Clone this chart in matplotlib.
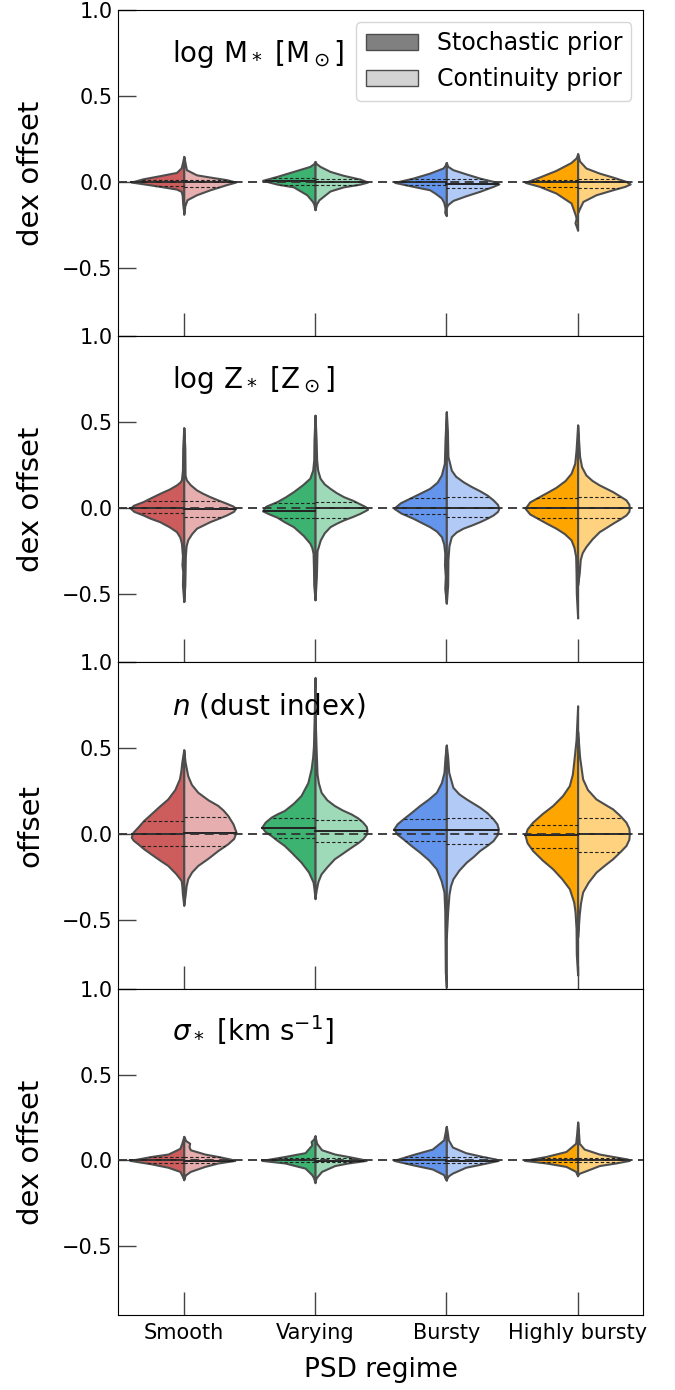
import numpy as np
import matplotlib
matplotlib.use("Agg")
import matplotlib.pyplot as plt
from matplotlib.colors import to_rgb
from matplotlib.patches import Patch

regimes = ["Smooth", "Varying", "Bursty", "Highly bursty"]
titles = [r"log M$_*$ [M$_\odot$]", r"log Z$_*$ [Z$_\odot$]",
          r"$n$ (dust index)", r"$\sigma_*$ [km s$^{-1}$]"]
ylabels = ["dex offset", "dex offset", "offset", "dex offset"]
colors = ["indianred", "mediumseagreen", "cornflowerblue", "orange"]

# violin half profiles: (offset, half width) from bottom to top, one list per regime
mass_stoch = [
    [(-0.18, 0.0), (-0.13, 0.008), (-0.08, 0.012), (-0.056, 0.02), (-0.043, 0.056), (-0.027, 0.183),
     (-0.012, 0.31), (-0.002, 0.40), (0.017, 0.31), (0.035, 0.183), (0.054, 0.056), (0.08, 0.02),
     (0.11, 0.01), (0.147, 0.0)],
    [(-0.163, 0.0), (-0.13, 0.01), (-0.115, 0.02), (-0.076, 0.063), (-0.03, 0.165), (-0.014, 0.29),
     (0.008, 0.40), (0.031, 0.29), (0.06, 0.165), (0.089, 0.04), (0.105, 0.01), (0.118, 0.0)],
    [(-0.198, 0.0), (-0.18, 0.012), (-0.153, 0.01), (-0.12, 0.02), (-0.095, 0.038), (-0.07, 0.08),
     (-0.047, 0.127), (-0.027, 0.254), (-0.004, 0.394), (0.021, 0.254), (0.05, 0.127), (0.08, 0.025),
     (0.095, 0.01), (0.112, 0.0)],
    [(-0.283, 0.0), (-0.26, 0.01), (-0.24, 0.02), (-0.215, 0.012), (-0.2, 0.015), (-0.124, 0.05),
     (-0.066, 0.165), (-0.027, 0.292), (-0.004, 0.40), (0.027, 0.292), (0.066, 0.165), (0.112, 0.05),
     (0.14, 0.01), (0.163, 0.0)],
]
mass_cont = [
    [(-0.19, 0.0), (-0.14, 0.008), (-0.105, 0.025), (-0.076, 0.097), (-0.047, 0.2), (-0.017, 0.325),
     (-0.002, 0.396), (0.012, 0.325), (0.027, 0.2), (0.04, 0.097), (0.07, 0.02), (0.11, 0.01), (0.147, 0.0)],
    [(-0.163, 0.0), (-0.13, 0.01), (-0.105, 0.03), (-0.054, 0.114), (-0.03, 0.216), (-0.014, 0.343),
     (-0.002, 0.40), (0.015, 0.343), (0.037, 0.216), (0.06, 0.114), (0.089, 0.038), (0.105, 0.01), (0.118, 0.0)],
    [(-0.15, 0.0), (-0.134, 0.01), (-0.109, 0.05), (-0.081, 0.152), (-0.056, 0.254), (-0.027, 0.356),
     (-0.013, 0.40), (0.002, 0.356), (0.021, 0.254), (0.045, 0.152), (0.07, 0.05), (0.09, 0.01), (0.112, 0.0)],
    [(-0.18, 0.0), (-0.163, 0.01), (-0.115, 0.04), (-0.076, 0.14), (-0.047, 0.267), (-0.027, 0.36),
     (-0.013, 0.40), (0.002, 0.368), (0.027, 0.267), (0.05, 0.165), (0.08, 0.063), (0.12, 0.015), (0.163, 0.0)],
]
metal_stoch = [
    [(-0.545, 0.0), (-0.45, 0.01), (-0.37, 0.008), (-0.33, 0.014), (-0.28, 0.01), (-0.205, 0.018),
     (-0.17, 0.03), (-0.138, 0.056), (-0.11, 0.11), (-0.08, 0.183), (-0.06, 0.255), (-0.041, 0.31),
     (-0.02, 0.38), (-0.002, 0.406), (0.015, 0.385), (0.037, 0.31), (0.06, 0.25), (0.085, 0.183),
     (0.11, 0.11), (0.134, 0.056), (0.15, 0.03), (0.163, 0.018), (0.22, 0.01), (0.35, 0.008), (0.467, 0.0)],
    [(-0.535, 0.0), (-0.45, 0.01), (-0.35, 0.012), (-0.264, 0.015), (-0.23, 0.025), (-0.205, 0.04),
     (-0.16, 0.09), (-0.109, 0.165), (-0.08, 0.235), (-0.054, 0.29), (-0.035, 0.35), (-0.017, 0.40),
     (0.01, 0.375), (0.037, 0.29), (0.065, 0.225), (0.095, 0.165), (0.135, 0.095), (0.173, 0.04),
     (0.22, 0.018), (0.28, 0.01), (0.4, 0.008), (0.54, 0.0)],
    [(-0.554, 0.0), (-0.47, 0.012), (-0.4, 0.008), (-0.33, 0.014), (-0.264, 0.012), (-0.21, 0.02),
     (-0.167, 0.038), (-0.135, 0.075), (-0.109, 0.127), (-0.085, 0.19), (-0.06, 0.254), (-0.03, 0.345),
     (-0.002, 0.40), (0.03, 0.35), (0.066, 0.254), (0.09, 0.19), (0.114, 0.127), (0.15, 0.07),
     (0.192, 0.038), (0.26, 0.015), (0.4, 0.01), (0.56, 0.0)],
    [(-0.641, 0.0), (-0.5, 0.01), (-0.38, 0.012), (-0.283, 0.015), (-0.23, 0.028), (-0.186, 0.05),
     (-0.15, 0.1), (-0.118, 0.165), (-0.09, 0.235), (-0.066, 0.292), (-0.035, 0.365), (-0.002, 0.40),
     (0.035, 0.365), (0.066, 0.292), (0.092, 0.23), (0.12, 0.165), (0.16, 0.095), (0.202, 0.05),
     (0.26, 0.022), (0.337, 0.012), (0.483, 0.0)],
]
metal_cont = [
    [(-0.545, 0.0), (-0.45, 0.008), (-0.37, 0.01), (-0.28, 0.012), (-0.22, 0.018), (-0.186, 0.03),
     (-0.15, 0.06), (-0.118, 0.097), (-0.1, 0.145), (-0.08, 0.198), (-0.06, 0.265), (-0.041, 0.325),
     (-0.02, 0.378), (-0.002, 0.396), (0.012, 0.372), (0.027, 0.325), (0.045, 0.265), (0.066, 0.198),
     (0.085, 0.145), (0.105, 0.097), (0.135, 0.05), (0.163, 0.02), (0.19, 0.01), (0.35, 0.008), (0.467, 0.0)],
    [(-0.535, 0.0), (-0.4, 0.01), (-0.25, 0.015), (-0.186, 0.04), (-0.145, 0.07), (-0.109, 0.114),
     (-0.09, 0.16), (-0.07, 0.216), (-0.05, 0.285), (-0.031, 0.343), (-0.008, 0.40), (0.008, 0.382),
     (0.023, 0.343), (0.045, 0.285), (0.066, 0.216), (0.09, 0.16), (0.114, 0.114), (0.14, 0.07),
     (0.173, 0.038), (0.22, 0.02), (0.28, 0.012), (0.4, 0.008), (0.54, 0.0)],
    [(-0.554, 0.0), (-0.45, 0.01), (-0.3, 0.012), (-0.22, 0.02), (-0.167, 0.038), (-0.14, 0.075),
     (-0.118, 0.127), (-0.1, 0.19), (-0.08, 0.254), (-0.06, 0.31), (-0.041, 0.356), (-0.02, 0.39),
     (-0.002, 0.40), (0.02, 0.39), (0.047, 0.356), (0.075, 0.31), (0.10, 0.254), (0.125, 0.19),
     (0.153, 0.127), (0.185, 0.07), (0.22, 0.038), (0.3, 0.012), (0.45, 0.008), (0.56, 0.0)],
    [(-0.45, 0.0), (-0.38, 0.012), (-0.3, 0.02), (-0.26, 0.035), (-0.225, 0.063), (-0.18, 0.11),
     (-0.138, 0.165), (-0.112, 0.22), (-0.089, 0.267), (-0.065, 0.32), (-0.041, 0.368), (-0.02, 0.39),
     (0.0, 0.394), (0.022, 0.39), (0.047, 0.368), (0.07, 0.32), (0.095, 0.267), (0.115, 0.215),
     (0.134, 0.165), (0.16, 0.11), (0.192, 0.063), (0.24, 0.03), (0.3, 0.015), (0.483, 0.0)],
]
dust_stoch = [
    [(-0.415, 0.0), (-0.35, 0.01), (-0.3, 0.015), (-0.27, 0.02), (-0.23, 0.06), (-0.182, 0.122),
     (-0.15, 0.185), (-0.115, 0.25), (-0.085, 0.305), (-0.056, 0.35), (-0.035, 0.385), (-0.017, 0.40),
     (0.01, 0.388), (0.041, 0.35), (0.08, 0.305), (0.118, 0.25), (0.16, 0.19), (0.205, 0.122),
     (0.26, 0.068), (0.322, 0.033), (0.37, 0.022), (0.419, 0.015), (0.492, 0.0)],
    [(-0.376, 0.0), (-0.32, 0.008), (-0.279, 0.015), (-0.22, 0.05), (-0.163, 0.107), (-0.11, 0.175),
     (-0.066, 0.234), (-0.035, 0.29), (-0.008, 0.335), (0.015, 0.38), (0.041, 0.406), (0.07, 0.38),
     (0.099, 0.335), (0.118, 0.29), (0.138, 0.234), (0.18, 0.165), (0.225, 0.107), (0.3, 0.055),
     (0.38, 0.03), (0.45, 0.018), (0.516, 0.012), (0.7, 0.006), (0.913, 0.0)],
    [(-0.89, 0.0), (-0.8, 0.008), (-0.6, 0.01), (-0.45, 0.012), (-0.337, 0.018), (-0.27, 0.04),
     (-0.202, 0.076), (-0.15, 0.135), (-0.105, 0.203), (-0.065, 0.27), (-0.027, 0.33), (0.0, 0.375),
     (0.031, 0.40), (0.06, 0.375), (0.089, 0.33), (0.125, 0.27), (0.167, 0.203), (0.205, 0.135),
     (0.244, 0.076), (0.3, 0.038), (0.36, 0.018), (0.45, 0.01), (0.519, 0.0)],
    [(-0.82, 0.0), (-0.7, 0.01), (-0.55, 0.012), (-0.45, 0.02), (-0.395, 0.03), (-0.318, 0.063),
     (-0.26, 0.12), (-0.202, 0.19), (-0.15, 0.27), (-0.095, 0.343), (-0.05, 0.385), (-0.008, 0.40),
     (0.03, 0.385), (0.07, 0.343), (0.12, 0.27), (0.167, 0.19), (0.225, 0.115), (0.283, 0.063),
     (0.35, 0.04), (0.419, 0.03), (0.55, 0.012), (0.748, 0.0)],
]
dust_cont = [
    [(-0.41, 0.0), (-0.357, 0.01), (-0.3, 0.018), (-0.26, 0.03), (-0.22, 0.06), (-0.182, 0.107),
     (-0.14, 0.185), (-0.095, 0.26), (-0.056, 0.335), (-0.025, 0.38), (0.012, 0.398), (0.06, 0.375),
     (0.109, 0.335), (0.14, 0.3), (0.167, 0.26), (0.2, 0.185), (0.244, 0.107), (0.29, 0.058),
     (0.341, 0.03), (0.42, 0.01), (0.49, 0.0)],
    [(-0.37, 0.0), (-0.32, 0.01), (-0.275, 0.022), (-0.231, 0.046), (-0.19, 0.09), (-0.143, 0.147),
     (-0.11, 0.21), (-0.076, 0.274), (-0.05, 0.325), (-0.027, 0.363), (0.0, 0.39), (0.021, 0.396),
     (0.045, 0.39), (0.07, 0.363), (0.095, 0.325), (0.118, 0.274), (0.14, 0.21), (0.167, 0.147),
     (0.2, 0.09), (0.244, 0.046), (0.3, 0.025), (0.35, 0.015), (0.5, 0.008), (0.7, 0.0)],
    [(-0.6, 0.0), (-0.45, 0.01), (-0.35, 0.02), (-0.3, 0.032), (-0.26, 0.05), (-0.21, 0.095),
     (-0.163, 0.152), (-0.13, 0.205), (-0.095, 0.254), (-0.065, 0.31), (-0.037, 0.356), (0.0, 0.39),
     (0.031, 0.396), (0.06, 0.385), (0.089, 0.356), (0.125, 0.31), (0.157, 0.254), (0.18, 0.205),
     (0.205, 0.152), (0.235, 0.095), (0.273, 0.05), (0.36, 0.018), (0.45, 0.01), (0.519, 0.0)],
    [(-0.6, 0.0), (-0.47, 0.012), (-0.4, 0.022), (-0.337, 0.038), (-0.28, 0.08), (-0.221, 0.14),
     (-0.18, 0.205), (-0.143, 0.267), (-0.1, 0.325), (-0.066, 0.368), (-0.03, 0.39), (0.002, 0.394),
     (0.035, 0.39), (0.07, 0.368), (0.11, 0.32), (0.147, 0.267), (0.175, 0.205), (0.205, 0.14),
     (0.26, 0.075), (0.322, 0.038), (0.45, 0.015), (0.6, 0.0)],
]
sigma_stoch = [
    [(-0.113, 0.0), (-0.09, 0.012), (-0.064, 0.03), (-0.04, 0.12), (-0.02, 0.247), (0.0, 0.41),
     (0.023, 0.247), (0.037, 0.12), (0.07, 0.03), (0.1, 0.015), (0.14, 0.0)],
    [(-0.13, 0.0), (-0.1, 0.012), (-0.083, 0.025), (-0.045, 0.076), (-0.015, 0.23), (0.0, 0.406),
     (0.023, 0.23), (0.045, 0.076), (0.09, 0.025), (0.11, 0.03), (0.125, 0.01), (0.145, 0.0)],
    [(-0.116, 0.0), (-0.1, 0.012), (-0.083, 0.02), (-0.05, 0.107), (-0.025, 0.26), (0.0, 0.40),
     (0.033, 0.26), (0.066, 0.107), (0.12, 0.02), (0.16, 0.01), (0.198, 0.0)],
    [(-0.09, 0.0), (-0.075, 0.01), (-0.064, 0.015), (-0.035, 0.089), (-0.015, 0.24), (0.0, 0.406),
     (0.023, 0.24), (0.052, 0.089), (0.1, 0.015), (0.15, 0.008), (0.223, 0.0)],
]
sigma_cont = [
    [(-0.11, 0.0), (-0.085, 0.012), (-0.064, 0.05), (-0.035, 0.16), (-0.015, 0.26), (0.0, 0.39),
     (0.007, 0.36), (0.023, 0.26), (0.037, 0.16), (0.062, 0.05), (0.08, 0.04), (0.1, 0.045),
     (0.115, 0.015), (0.14, 0.0)],
    [(-0.12, 0.0), (-0.1, 0.01), (-0.064, 0.05), (-0.03, 0.15), (-0.015, 0.25), (0.0, 0.39),
     (0.008, 0.35), (0.023, 0.25), (0.037, 0.15), (0.062, 0.05), (0.1, 0.012), (0.14, 0.0)],
    [(-0.11, 0.0), (-0.09, 0.015), (-0.074, 0.046), (-0.04, 0.147), (-0.02, 0.274), (0.0, 0.396),
     (0.008, 0.375), (0.023, 0.274), (0.045, 0.147), (0.078, 0.046), (0.12, 0.015), (0.16, 0.008),
     (0.198, 0.0)],
    [(-0.085, 0.0), (-0.075, 0.012), (-0.064, 0.05), (-0.03, 0.165), (-0.015, 0.29), (0.0, 0.394),
     (0.008, 0.38), (0.02, 0.29), (0.037, 0.165), (0.066, 0.05), (0.1, 0.012), (0.15, 0.008),
     (0.223, 0.0)],
]

# (lower quartile, median, upper quartile) per regime
mass_q_stoch = [(-0.023, -0.002, 0.012), (-0.017, 0.002, 0.021), (-0.017, -0.004, 0.016), (-0.031, -0.004, 0.012)]
mass_q_cont = [(-0.031, -0.002, 0.008), (-0.017, 0.0, 0.015), (-0.037, -0.012, 0.017), (-0.037, -0.004, 0.017)]
metal_q_stoch = [(-0.031, -0.002, 0.043), (-0.06, -0.02, 0.03), (-0.037, 0.002, 0.056), (-0.06, -0.002, 0.056)]
metal_q_cont = [(-0.054, -0.004, 0.043), (-0.06, -0.002, 0.035), (-0.05, -0.002, 0.066), (-0.06, 0.002, 0.066)]
dust_q_stoch = [(-0.066, 0.002, 0.074), (-0.023, 0.037, 0.097), (-0.037, 0.027, 0.089), (-0.081, -0.004, 0.056)]
dust_q_cont = [(-0.066, 0.008, 0.099), (-0.047, 0.017, 0.08), (-0.056, 0.027, 0.095), (-0.105, 0.002, 0.093)]
sigma_q_stoch = [(-0.016, 0.0, 0.02), (-0.012, 0.0, 0.015), (-0.015, 0.0, 0.02), (-0.012, 0.002, 0.015)]
sigma_q_cont = [(-0.016, -0.002, 0.018), (-0.012, -0.002, 0.016), (-0.015, -0.002, 0.018), (-0.012, 0.0, 0.015)]

panels = [
    (mass_stoch, mass_cont, mass_q_stoch, mass_q_cont),
    (metal_stoch, metal_cont, metal_q_stoch, metal_q_cont),
    (dust_stoch, dust_cont, dust_q_stoch, dust_q_cont),
    (sigma_stoch, sigma_cont, sigma_q_stoch, sigma_q_cont),
]

EDGE = "#4d4d4d"


def lighten(c, f=0.5):
    r = np.array(to_rgb(c))
    return tuple(r + (1 - r) * f)


def half_violin(ax, pos, prof, quarts, side, color):
    y = np.array([p[0] for p in prof])
    w = np.array([p[1] for p in prof])
    ax.fill_betweenx(y, pos, pos + side * w, facecolor=color, edgecolor=EDGE,
                     linewidth=1.5, joinstyle="round", zorder=2)
    q1, med, q3 = quarts
    for q in (q1, q3):
        ax.plot([pos, pos + side * np.interp(q, y, w)], [q, q], color="#222222",
                lw=0.8, ls=(0, (3, 2)), zorder=3)
    ax.plot([pos, pos + side * np.interp(med, y, w)], [med, med], color="#222222",
            lw=1.4, zorder=3)


fig, axes = plt.subplots(4, 1, figsize=(6.75, 13.9), dpi=100, sharex=True)
fig.subplots_adjust(left=0.175, right=0.953, top=0.9928, bottom=0.054, hspace=0)

for k, ax in enumerate(axes):
    stoch, cont, qs, qc = panels[k]
    for i in range(len(regimes)):
        half_violin(ax, i, stoch[i], qs[i], -1, colors[i])
        half_violin(ax, i, cont[i], qc[i], 1, lighten(colors[i]))
    ax.axhline(0, color="#333333", lw=1.3, ls=(0, (5, 3)), zorder=4)
    ax.set_xlim(-0.5, 3.5)
    ax.set_ylim(-0.9, 1.0)
    ax.set_yticks([-0.5, 0.0, 0.5, 1.0])
    ax.tick_params(axis="y", direction="in", length=13, width=1, color="#444444",
                   labelsize=15, pad=4)
    ax.tick_params(axis="x", direction="in", length=16.5, width=1, color="#444444",
                   labelsize=15, pad=6)
    ax.set_ylabel(ylabels[k], fontsize=21)
    ax.yaxis.set_label_coords(-0.14, 0.5)
    ax.text(0.103, 0.84, titles[k], transform=ax.transAxes, fontsize=20, va="baseline")

axes[-1].set_xticks(range(len(regimes)))
axes[-1].set_xticklabels(regimes)
axes[-1].set_xlabel("PSD regime", fontsize=19, labelpad=10)

handles = [Patch(facecolor="#808080", edgecolor=EDGE, label="Stochastic prior"),
           Patch(facecolor="#d3d3d3", edgecolor=EDGE, label="Continuity prior")]
axes[0].legend(handles=handles, loc="upper right", fontsize=17, handlelength=2.2)

fig.savefig("out.png", dpi=100)
